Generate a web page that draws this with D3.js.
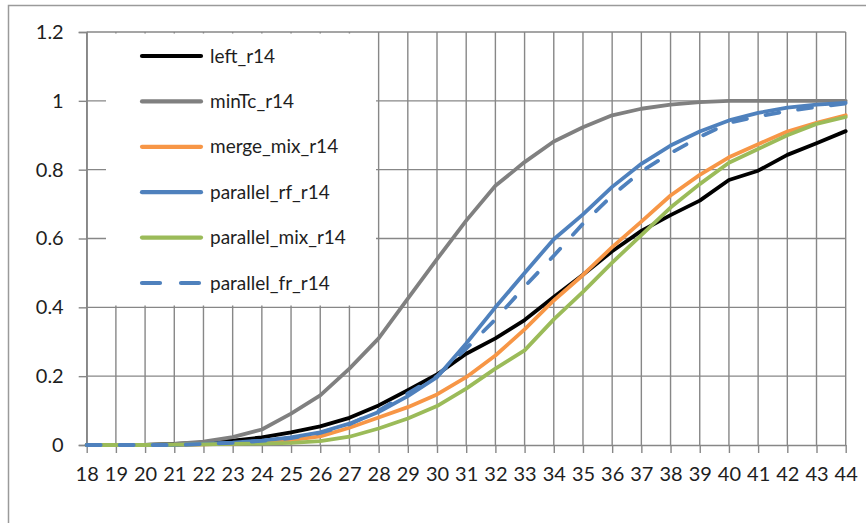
<!DOCTYPE html>
<html>
<head>
<meta charset="utf-8">
<script src="https://cdn.jsdelivr.net/npm/d3@7"></script>
<style>
  html, body { margin: 0; padding: 0; background: #fff; }
  svg { display: block; }
  text { font-family: Lato, "Liberation Sans", sans-serif; fill: #1e1e1e; }
</style>
</head>
<body>
<svg id="chart" width="866" height="523"></svg>
<script>
// Category labels along the x axis
const categories = [18, 19, 20, 21, 22, 23, 24, 25, 26, 27, 28, 29, 30, 31, 32, 33, 34, 35, 36, 37, 38, 39, 40, 41, 42, 43, 44];

// Cumulative fractions per series
const left_r14 = [0, 0, 0, 0.003, 0.007, 0.013, 0.022, 0.037, 0.054, 0.079, 0.115, 0.159, 0.205, 0.265, 0.31, 0.363, 0.43, 0.495, 0.563, 0.622, 0.668, 0.71, 0.77, 0.797, 0.843, 0.877, 0.912];
const minTc_r14 = [0, 0, 0, 0.003, 0.01, 0.023, 0.045, 0.091, 0.144, 0.222, 0.31, 0.425, 0.54, 0.652, 0.753, 0.822, 0.882, 0.923, 0.958, 0.977, 0.989, 0.996, 1, 1, 1, 1, 1];
const merge_mix_r14 = [0, 0, 0, 0, 0.002, 0.004, 0.008, 0.014, 0.025, 0.05, 0.08, 0.11, 0.147, 0.197, 0.26, 0.336, 0.42, 0.494, 0.575, 0.649, 0.725, 0.785, 0.836, 0.874, 0.911, 0.936, 0.958];
const parallel_rf_r14 = [0, 0, 0, 0, 0.003, 0.007, 0.013, 0.022, 0.037, 0.062, 0.096, 0.142, 0.197, 0.295, 0.4, 0.5, 0.598, 0.67, 0.75, 0.817, 0.87, 0.911, 0.943, 0.965, 0.98, 0.989, 0.994];
const parallel_mix_r14 = [0, 0, 0, 0.001, 0.002, 0.003, 0.004, 0.006, 0.011, 0.024, 0.048, 0.077, 0.113, 0.164, 0.222, 0.275, 0.365, 0.445, 0.53, 0.61, 0.69, 0.758, 0.82, 0.86, 0.9, 0.933, 0.953];
const parallel_fr_r14 = [0, 0, 0, 0, 0.003, 0.006, 0.012, 0.02, 0.035, 0.06, 0.1, 0.15, 0.2, 0.28, 0.365, 0.46, 0.55, 0.643, 0.725, 0.795, 0.848, 0.895, 0.936, 0.955, 0.97, 0.982, 0.992];

// Y axis tick values
const yTicks = [0, 0.2, 0.4, 0.6, 0.8, 1, 1.2];

const seriesNames = ["left_r14", "minTc_r14", "merge_mix_r14", "parallel_rf_r14", "parallel_mix_r14", "parallel_fr_r14"];
const seriesValues = [left_r14, minTc_r14, merge_mix_r14, parallel_rf_r14, parallel_mix_r14, parallel_fr_r14];
const seriesColors = ["#000000", "#808080", "#f79646", "#4f81bd", "#9bbb59", "#4f81bd"];
const seriesDashed = [false, false, false, false, false, true];

const svg = d3.select("#chart");
const gridColor = "#878787";

// Outer chart frame
svg.append("path")
  .attr("d", "M8.5,523 L8.5,5.5 L866,5.5")
  .attr("fill", "none")
  .attr("stroke", "#9a9a9a")
  .attr("stroke-width", 1.5);

const plot = { left: 86.7, right: 845.7, top: 32, bottom: 445 };

const x = d3.scalePoint()
  .domain(categories)
  .range([plot.left, plot.right]);

const y = d3.scaleLinear()
  .domain([0, 1.2])
  .range([plot.bottom, plot.top]);

// Horizontal gridlines
svg.append("g")
  .selectAll("line")
  .data(yTicks.filter(d => d > 0))
  .join("line")
  .attr("x1", plot.left).attr("x2", plot.right)
  .attr("y1", d => y(d)).attr("y2", d => y(d))
  .attr("stroke", gridColor).attr("stroke-width", 1.4);

// Vertical gridlines
svg.append("g")
  .selectAll("line")
  .data(categories)
  .join("line")
  .attr("x1", d => x(d)).attr("x2", d => x(d))
  .attr("y1", plot.top).attr("y2", plot.bottom)
  .attr("stroke", gridColor).attr("stroke-width", 1.4);

// Y axis
const yAxis = svg.append("g")
  .attr("transform", `translate(${plot.left},0)`)
  .call(d3.axisLeft(y).tickValues(yTicks).tickSize(8).tickPadding(15)
    .tickFormat(d => d3.format("")(+d.toFixed(1))));
yAxis.select(".domain").attr("stroke", gridColor).attr("stroke-width", 1.4);
yAxis.selectAll(".tick line").attr("stroke", gridColor).attr("stroke-width", 1.4);
yAxis.selectAll(".tick text")
  .attr("font-size", 20)
  .style("font-family", "Lato, 'Liberation Sans', sans-serif")
  .attr("fill", "#1e1e1e");

// X axis
const xAxis = svg.append("g")
  .attr("transform", `translate(0,${plot.bottom})`)
  .call(d3.axisBottom(x).tickSize(8).tickPadding(14).tickSizeOuter(0));
xAxis.select(".domain").attr("stroke", gridColor).attr("stroke-width", 1.4);
xAxis.selectAll(".tick line").attr("stroke", gridColor).attr("stroke-width", 1.4);
xAxis.selectAll(".tick text")
  .attr("font-size", 20)
  .style("font-family", "Lato, 'Liberation Sans', sans-serif")
  .attr("fill", "#1e1e1e");

// Series lines
const line = d3.line()
  .x((d, i) => x(categories[i]))
  .y(d => y(d))
  .curve(d3.curveLinear);

svg.append("g")
  .selectAll("path")
  .data(seriesValues)
  .join("path")
  .attr("d", d => line(d))
  .attr("fill", "none")
  .attr("stroke", (d, i) => seriesColors[i])
  .attr("stroke-width", 3.8)
  .attr("stroke-linejoin", "round")
  .attr("stroke-linecap", "round")
  .attr("stroke-dasharray", (d, i) => seriesDashed[i] ? "14,19" : null);

// Legend
const legend = svg.append("g");
legend.append("rect")
  .attr("x", 106).attr("y", 33.5)
  .attr("width", 270).attr("height", 272)
  .attr("fill", "#fff");

const legendRows = legend.selectAll("g.row")
  .data(seriesNames)
  .join("g")
  .attr("class", "row")
  .attr("transform", (d, i) => `translate(0,${56 + i * 45.4})`);

legendRows.append("line")
  .attr("x1", 142).attr("x2", 201)
  .attr("y1", 0).attr("y2", 0)
  .attr("stroke", (d, i) => seriesColors[i])
  .attr("stroke-width", 4.2)
  .attr("stroke-linecap", "round")
  .attr("stroke-dasharray", (d, i) => seriesDashed[i] ? "18,21" : null);

legendRows.append("text")
  .attr("x", 210)
  .attr("y", 0)
  .attr("dy", "0.35em")
  .attr("font-size", 19)
  .text(d => d);
</script>
</body>
</html>
